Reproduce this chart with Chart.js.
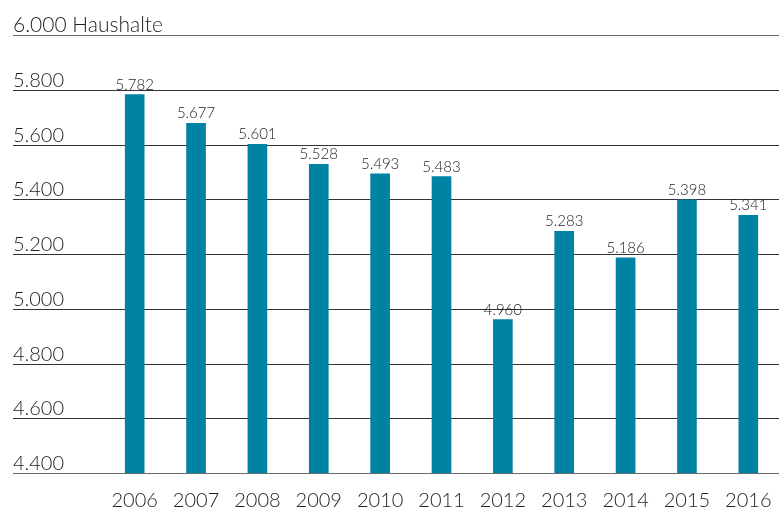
<!DOCTYPE html>
<html>
<head>
<meta charset="utf-8">
<script src="https://cdn.jsdelivr.net/npm/chart.js@4/dist/chart.umd.min.js"></script>
<style>
  html, body { margin: 0; padding: 0; background: #fff; }
  #wrap { width: 779px; height: 510px; }
</style>
</head>
<body>
<div id="wrap"><canvas id="myChart" width="779" height="510"></canvas></div>
<script>
// Data
const years = ['2006', '2007', '2008', '2009', '2010', '2011', '2012', '2013', '2014', '2015', '2016'];
const households = [5782, 5677, 5601, 5528, 5493, 5483, 4960, 5283, 5186, 5398, 5341];
const yTicks = [4400, 4600, 4800, 5000, 5200, 5400, 5600, 5800, 6000];
const unitLabel = 'Haushalte';

const FONT = 'Lato, "Open Sans", sans-serif';
const TEXT = '#1e1e1e';

// German thousands separator
function fmt(v) {
    return v.toString().replace(/\B(?=(\d{3})+(?!\d))/g, '.');
}

// Draws the grid lines, axis labels and value labels
const decorations = {
    id: 'decorations',
    beforeDatasetsDraw(chart) {
        const ctx = chart.ctx;
        const y = chart.scales.y;
        ctx.save();
        yTicks.forEach(t => {
            const py = Math.round(y.getPixelForValue(t)) + 0.5;
            const top = t === yTicks[yTicks.length - 1];
            const edge = (t === yTicks[0] || top);
            ctx.strokeStyle = edge ? '#6a6a6a' : '#333';
            ctx.lineWidth = 1;
            ctx.beginPath();
            ctx.moveTo(13, py);
            ctx.lineTo(chart.width, py);
            ctx.stroke();

            ctx.fillStyle = TEXT;
            ctx.font = (top ? '300 21px ' : '300 20px ') + FONT;
            ctx.textAlign = 'left';
            ctx.textBaseline = 'alphabetic';
            const label = top ? fmt(t) + ' ' + unitLabel : fmt(t);
            ctx.fillText(label, 13, py - 4);
        });
        ctx.restore();
    },
    afterDatasetsDraw(chart) {
        const ctx = chart.ctx;
        const meta = chart.getDatasetMeta(0);
        ctx.save();
        ctx.fillStyle = TEXT;
        ctx.textAlign = 'center';
        meta.data.forEach((bar, i) => {
            ctx.font = '300 15px ' + FONT;
            ctx.textBaseline = 'alphabetic';
            ctx.fillText(fmt(households[i]), bar.x, bar.y - 5);

            ctx.font = '300 20px ' + FONT;
            ctx.fillText(years[i], bar.x, 507);
        });
        ctx.restore();
    }
};

const ctx = document.getElementById('myChart').getContext('2d');
const myChart = new Chart(ctx, {
    type: 'bar',
    data: {
        labels: years,
        datasets: [{
            data: households,
            backgroundColor: '#0083a3',
            barThickness: 19,
            borderWidth: 0
        }]
    },
    options: {
        responsive: false,
        animation: false,
        layout: {
            padding: { left: 104, right: 0, top: 35, bottom: 37 }
        },
        scales: {
            x: { display: false },
            y: { display: false, min: 4400, max: 6000 }
        },
        plugins: {
            legend: { display: false },
            tooltip: { enabled: false }
        }
    },
    plugins: [decorations]
});
</script>
</body>
</html>
